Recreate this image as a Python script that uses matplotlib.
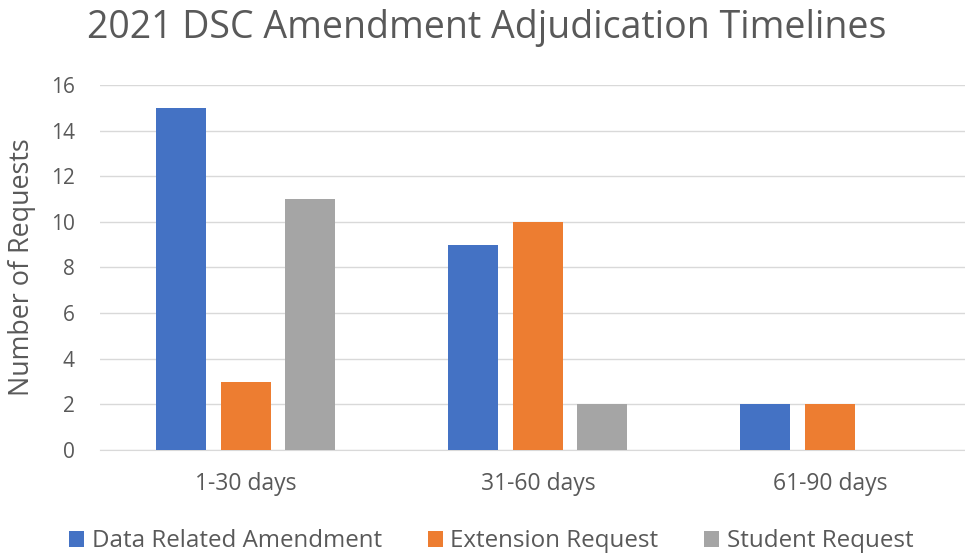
import matplotlib.pyplot as plt
import numpy as np

plt.rcParams['font.family'] = ['Open Sans', 'DejaVu Sans']

categories = ['1-30 days', '31-60 days', '61-90 days']
data_related = [15, 9, 2]
extension = [3, 10, 2]
student = [11, 2, 0]
series_names = ['Data Related Amendment', 'Extension Request', 'Student Request']
colors = ['#4472C4', '#ED7D31', '#A5A5A5']

TEXT = '#595959'

fig = plt.figure(figsize=(9.65, 5.54), dpi=100)
ax = fig.add_axes([0.1036, 0.1877, 0.9075, 0.659])

x = np.arange(len(categories))
step = 0.221
width = 0.171
for i, (vals, name, c) in enumerate(zip([data_related, extension, student], series_names, colors)):
    ax.bar(x + (i - 1) * step, vals, width, color=c, label=name, zorder=3)

ax.set_xlim(-0.5, 2.5)
ax.set_ylim(0, 16)
ax.set_yticks(range(0, 17, 2))
ax.set_xticks(x)
ax.set_xticklabels(categories)
ax.tick_params(length=0, colors=TEXT)
ax.tick_params(axis='x', labelsize=16.5, pad=16)
ax.tick_params(axis='y', labelsize=15, pad=18)
ax.grid(axis='y', color='#D9D9D9', linewidth=1, zorder=0)
for s in ['top', 'right', 'left']:
    ax.spines[s].set_visible(False)
ax.spines['bottom'].set_color('#D9D9D9')

ax.set_ylabel('Number of Requests', fontsize=19.4, color=TEXT, va='center')
ax.yaxis.set_label_coords(-0.089, 0.5)
fig.text(0.504, 0.95, '2021 DSC Amendment Adjudication Timelines', fontsize=27,
         color=TEXT, ha='center', va='center')

fig.legend(loc='center', bbox_to_anchor=(0.509, 0.023), ncol=3, frameon=False,
           fontsize=17.4, labelcolor=TEXT, handlelength=0.63, handleheight=0.63,
           handletextpad=0.3, columnspacing=1.9)

fig.savefig('out.png', dpi=100)
